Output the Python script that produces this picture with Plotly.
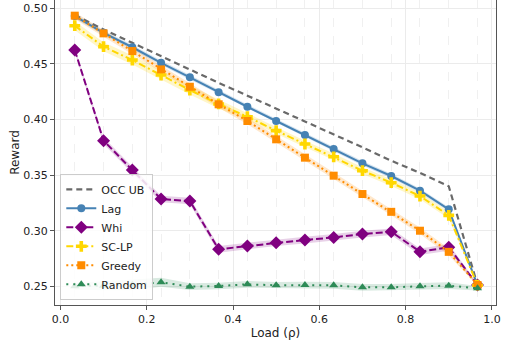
import plotly.graph_objects as go

load = [0.0333, 0.1, 0.1667, 0.2333, 0.3, 0.3667, 0.4333, 0.5, 0.5667, 0.6333, 0.7, 0.7667, 0.8333, 0.9, 0.9667]

occ_ub = [0.494, 0.481, 0.469, 0.457, 0.4445, 0.433, 0.4215, 0.410, 0.398, 0.387, 0.375, 0.363, 0.352, 0.340, 0.251]
lag = [0.493, 0.478, 0.465, 0.451, 0.438, 0.4245, 0.4115, 0.3987, 0.386, 0.3735, 0.3606, 0.3492, 0.336, 0.3192, 0.251]
whi = [0.4625, 0.381, 0.3546, 0.3285, 0.3267, 0.2833, 0.2862, 0.2892, 0.2916, 0.294, 0.297, 0.2991, 0.2811, 0.2851, 0.2512]
sclp = [0.4844, 0.4655, 0.4535, 0.440, 0.4265, 0.414, 0.4025, 0.390, 0.378, 0.3665, 0.354, 0.3432, 0.3312, 0.3138, 0.251]
greedy = [0.4934, 0.4775, 0.4616, 0.4451, 0.4295, 0.4137, 0.3987, 0.3822, 0.3657, 0.3495, 0.333, 0.317, 0.300, 0.281, 0.2512]
random_ = [0.250, 0.2505, 0.2515, 0.2536, 0.2497, 0.2503, 0.2518, 0.2509, 0.2512, 0.2509, 0.2491, 0.2491, 0.250, 0.2506, 0.2482]

lag_sd = [0.002, 0.002, 0.002, 0.002, 0.002, 0.002, 0.002, 0.002, 0.002, 0.002, 0.002, 0.002, 0.002, 0.002, 0.001]
whi_sd = [0.002, 0.003, 0.003, 0.003, 0.003, 0.003, 0.003, 0.003, 0.003, 0.003, 0.003, 0.003, 0.003, 0.003, 0.001]
sclp_sd = [0.004, 0.004, 0.004, 0.004, 0.004, 0.004, 0.003, 0.003, 0.003, 0.003, 0.003, 0.003, 0.003, 0.003, 0.001]
greedy_sd = [0.003, 0.003, 0.003, 0.003, 0.003, 0.003, 0.003, 0.003, 0.003, 0.003, 0.003, 0.003, 0.003, 0.003, 0.001]
random_sd = [0.003, 0.004, 0.005, 0.004, 0.003, 0.003, 0.003, 0.003, 0.003, 0.003, 0.003, 0.003, 0.003, 0.003, 0.002]

x_ticks = [0.0, 0.2, 0.4, 0.6, 0.8, 1.0]
y_ticks = [0.25, 0.30, 0.35, 0.40, 0.45, 0.50]

fig = go.Figure()

def band(y, sd, rgba):
    up = [a + b for a, b in zip(y, sd)]
    lo = [a - b for a, b in zip(y, sd)]
    fig.add_trace(go.Scatter(x=load + load[::-1], y=up + lo[::-1], fill="toself",
                             fillcolor=rgba, line=dict(width=0), mode="lines",
                             hoverinfo="skip", showlegend=False))

band(lag, lag_sd, "rgba(70,130,180,0.22)")
band(whi, whi_sd, "rgba(128,0,128,0.18)")
band(sclp, sclp_sd, "rgba(255,215,0,0.22)")
band(greedy, greedy_sd, "rgba(255,140,0,0.20)")
band(random_, random_sd, "rgba(46,139,87,0.18)")

fig.add_trace(go.Scatter(x=load, y=occ_ub, name="OCC UB", mode="lines",
                         line=dict(color="#696969", width=2.2, dash="6px,4px")))
fig.add_trace(go.Scatter(x=load, y=lag, name="Lag", mode="lines+markers",
                         line=dict(color="#4682B4", width=2),
                         marker=dict(symbol="circle", size=8, color="#4682B4")))
fig.add_trace(go.Scatter(x=load, y=whi, name="Whi", mode="lines+markers",
                         line=dict(color="#800080", width=2, dash="7px,3px"),
                         marker=dict(symbol="diamond", size=10, color="#800080")))
fig.add_trace(go.Scatter(x=load, y=sclp, name="SC-LP", mode="lines+markers",
                         line=dict(color="#FFD700", width=2, dash="7px,3px,2px,3px"),
                         marker=dict(symbol="cross", size=9, color="#FFD700")))
fig.add_trace(go.Scatter(x=load, y=greedy, name="Greedy", mode="lines+markers",
                         line=dict(color="#FF8C00", width=2, dash="2px,3px"),
                         marker=dict(symbol="square", size=8, color="#FF8C00")))
fig.add_trace(go.Scatter(x=load, y=random_, name="Random", mode="lines+markers",
                         line=dict(color="#2E8B57", width=2, dash="2px,5px"),
                         marker=dict(symbol="triangle-up", size=8, color="#2E8B57")))

axis_common = dict(showline=True, linecolor="#555555", linewidth=1, mirror=True,
                   ticks="outside", ticklen=4, tickcolor="#555555",
                   showgrid=True, gridcolor="#ebebeb", gridwidth=1, zeroline=False,
                   tickfont=dict(family="DejaVu Sans", size=11, color="#222"))

fig.update_layout(
    width=516, height=343,
    margin=dict(l=55, r=20, t=0, b=38),
    plot_bgcolor="white", paper_bgcolor="white",
    font=dict(family="DejaVu Sans", size=11, color="#222"),
    xaxis=dict(range=[-0.0125, 1.0095], tickvals=x_ticks, tickformat=".1f",
               title=dict(text="Load (ρ)", font=dict(size=12), standoff=3),
               minor=dict(tick0=0.03333, dtick=0.066667, showgrid=True,
                          gridcolor="#f0f0f0", griddash="dash", gridwidth=1),
               **axis_common),
    yaxis=dict(range=[0.2332, 0.5075], tickvals=y_ticks, tickformat=".2f",
               title=dict(text="Reward", font=dict(size=12), standoff=1),
               **axis_common),
    legend=dict(x=0.012, y=0.017, xanchor="left", yanchor="bottom",
                bgcolor="rgba(255,255,255,0.85)", bordercolor="#cccccc", borderwidth=1,
                font=dict(size=11), tracegroupgap=0, itemwidth=30),
)

fig.write_html("out.html")
